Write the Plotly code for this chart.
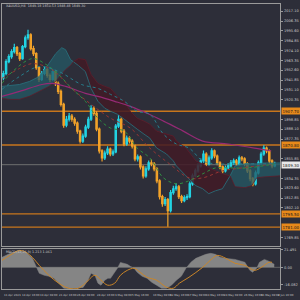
import plotly.graph_objects as go

# ---------------- data ----------------
opens = [1944.0, 1949.0, 1962.0, 1967.4, 1972.9, 1977.2, 1970.7, 1965.3, 1978.3, 1988.1,
         1991.3, 1976.1, 1970.7, 1955.5, 1942.5, 1949.0, 1953.3, 1946.8, 1942.5, 1951.2,
         1938.1, 1929.4, 1915.3, 1892.5, 1899.0, 1902.3, 1899.0, 1894.7, 1886.0, 1875.1,
         1880.6, 1890.3, 1899.0, 1911.0, 1905.5, 1888.2, 1864.3, 1856.7, 1862.1, 1866.4,
         1861.0, 1863.2, 1891.4, 1899.0, 1886.0, 1871.9, 1878.4, 1875.1, 1869.7, 1855.6,
         1857.8, 1846.9, 1837.1, 1844.7, 1851.2, 1850.2, 1844.7, 1831.7, 1814.3, 1806.7,
         1811.1, 1799.1, 1818.7, 1823.0, 1825.2, 1814.3, 1810.0, 1813.2, 1814.3, 1828.4,
         1837.1, 1842.6, 1848.0, 1853.4, 1861.0, 1850.2, 1856.7, 1864.3, 1858.8, 1851.2,
         1846.9, 1842.6, 1845.8, 1848.0, 1851.2, 1853.4, 1850.2, 1856.7, 1855.6, 1850.2,
         1842.6, 1833.9, 1828.4, 1840.4, 1851.2, 1861.0, 1867.5, 1864.3, 1853.4, 1848.0]
closes = [1949.0, 1962.0, 1967.4, 1972.9, 1977.2, 1970.7, 1965.3, 1978.3, 1988.1, 1991.3,
          1976.1, 1970.7, 1955.5, 1942.5, 1949.0, 1953.3, 1946.8, 1942.5, 1951.2, 1938.1,
          1929.4, 1915.3, 1892.5, 1899.0, 1902.3, 1899.0, 1894.7, 1886.0, 1875.1, 1880.6,
          1890.3, 1899.0, 1911.0, 1905.5, 1888.2, 1864.3, 1856.7, 1862.1, 1866.4, 1861.0,
          1863.2, 1891.4, 1899.0, 1886.0, 1871.9, 1878.4, 1875.1, 1869.7, 1855.6, 1857.8,
          1846.9, 1837.1, 1844.7, 1851.2, 1850.2, 1844.7, 1831.7, 1814.3, 1806.7, 1811.1,
          1799.1, 1818.7, 1823.0, 1825.2, 1814.3, 1810.0, 1813.2, 1814.3, 1828.4, 1837.1,
          1842.6, 1848.0, 1853.4, 1861.0, 1850.2, 1856.7, 1864.3, 1858.8, 1851.2, 1846.9,
          1842.6, 1845.8, 1848.0, 1851.2, 1853.4, 1850.2, 1856.7, 1855.6, 1850.2, 1842.6,
          1833.9, 1828.4, 1840.4, 1851.2, 1861.0, 1867.5, 1864.3, 1853.4, 1848.0, 1849.3]
highs = [1952.0, 1964.5, 1970.0, 1975.6, 1981.5, 1979.0, 1972.4, 1980.1, 1990.6, 1996.8,
         1993.0, 1979.4, 1972.2, 1957.3, 1951.8, 1956.4, 1955.0, 1948.9, 1954.0, 1952.9,
         1940.2, 1931.5, 1917.0, 1902.4, 1905.8, 1904.7, 1901.3, 1896.5, 1887.6, 1883.3,
         1892.9, 1901.7, 1914.2, 1913.1, 1907.6, 1890.0, 1866.2, 1864.8, 1869.5, 1868.1,
         1866.0, 1893.8, 1903.6, 1900.8, 1888.3, 1881.2, 1880.3, 1877.0, 1871.4, 1860.5,
         1859.6, 1848.7, 1847.5, 1854.0, 1855.1, 1852.3, 1846.5, 1833.4, 1816.5, 1814.0,
         1813.0, 1821.5, 1826.2, 1828.9, 1827.0, 1816.4, 1815.8, 1817.0, 1830.9, 1839.6,
         1845.0, 1850.8, 1856.1, 1864.7, 1862.9, 1859.3, 1867.4, 1866.0, 1860.4, 1853.1,
         1848.5, 1848.4, 1850.9, 1854.3, 1856.2, 1855.5, 1859.4, 1858.9, 1857.3, 1852.0,
         1844.5, 1835.8, 1842.9, 1853.8, 1863.4, 1870.6, 1869.3, 1866.0, 1855.2, 1852.6]
lows = [1941.5, 1947.0, 1960.2, 1965.0, 1971.0, 1968.2, 1962.8, 1964.0, 1976.5, 1985.9,
        1974.2, 1968.0, 1953.1, 1939.6, 1940.7, 1947.2, 1944.3, 1939.8, 1941.0, 1935.4,
        1926.7, 1912.8, 1889.6, 1890.1, 1896.5, 1896.2, 1891.9, 1883.2, 1872.4, 1873.0,
        1878.8, 1888.4, 1897.1, 1902.8, 1885.9, 1861.5, 1852.9, 1854.3, 1860.0, 1858.4,
        1858.9, 1861.7, 1889.5, 1883.7, 1869.4, 1870.0, 1872.6, 1866.9, 1853.0, 1852.8,
        1844.1, 1834.2, 1835.0, 1842.8, 1847.6, 1842.0, 1829.0, 1811.2, 1803.3, 1804.2,
        1781.5, 1797.0, 1816.4, 1820.8, 1811.9, 1807.3, 1808.1, 1810.6, 1812.5, 1826.3,
        1835.2, 1840.4, 1846.2, 1851.5, 1847.8, 1848.5, 1854.6, 1856.3, 1848.7, 1844.2,
        1840.0, 1840.8, 1843.7, 1846.1, 1849.0, 1847.9, 1848.6, 1853.0, 1847.7, 1840.1,
        1831.2, 1825.7, 1826.5, 1838.6, 1849.3, 1859.2, 1861.8, 1851.0, 1845.5, 1846.4]

# Ichimoku cloud boundaries (bar index, price)
cloud1_x = [-0.5, 2.4, 5.9, 9.5, 13.1, 16.6, 19.1, 21.3, 22.7, 24.5, 25.6]
cloud1_a = [1934.9, 1935.9, 1937.0, 1940.3, 1945.7, 1959.8, 1970.7, 1977.2, 1975.0, 1964.2, 1962.0]
cloud1_b = [1921.8, 1920.7, 1920.7, 1924.0, 1929.4, 1934.9, 1940.3, 1949.0, 1953.3, 1957.7, 1962.0]
cloud2_x = [25.6, 27.4, 29.9, 32.0, 34.5, 37.0, 39.1, 41.6, 44.1, 46.3, 48.8, 51.3, 53.4, 55.9,
            59.5, 62.0, 63.1, 66.6, 70.2, 72.7, 74.9, 77.4, 79.9, 82.7]
cloud2_b = [1962.0, 1965.3, 1964.2, 1947.9, 1938.1, 1934.9, 1932.7, 1924.0, 1918.6, 1907.7,
            1900.1, 1896.9, 1893.6, 1886.0, 1882.7, 1880.6, 1875.1, 1867.5, 1853.4, 1850.2,
            1845.8, 1842.6, 1839.3, 1837.1]
cloud2_a = [1962.0, 1957.7, 1951.2, 1932.7, 1918.6, 1911.0, 1907.7, 1904.5, 1899.0, 1893.6,
            1888.2, 1882.7, 1878.4, 1867.5, 1861.0, 1853.4, 1848.0, 1837.1, 1826.3, 1823.0,
            1817.6, 1820.8, 1823.0, 1837.1]
cloud3_x = [82.7, 84.5, 88.1, 90.6, 92.4, 95.2, 101.0]
cloud3_a = [1837.1, 1848.0, 1850.2, 1850.2, 1850.2, 1851.2, 1851.2]
cloud3_b = [1837.1, 1825.2, 1824.1, 1826.3, 1834.9, 1836.0, 1837.1]

# moving averages (bar index, price)
ma_long_x = [-0.5, 5.9, 14.1, 17.7, 22.7, 29.9, 34.5, 40.6, 46.3, 52.4, 58.4, 65.6, 72.7, 82.0, 91.6, 97.7]
ma_long_y = [1924.0, 1929.4, 1937.0, 1938.1, 1934.9, 1927.3, 1924.0, 1918.6, 1913.1, 1905.5,
             1896.9, 1886.0, 1875.1, 1871.9, 1867.5, 1864.3]
ma_mid_x = [-0.5, 5.9, 10.6, 17.7, 24.9, 32.0, 39.1, 46.3, 53.4, 60.6, 67.7, 72.7, 79.9, 87.0, 98.8]
ma_mid_y = [1943.5, 1954.4, 1959.8, 1953.3, 1932.7, 1915.3, 1900.1, 1889.3, 1867.5, 1850.2,
            1834.9, 1834.9, 1842.6, 1845.8, 1850.2]
ma_fast_x = [-0.5, 3.4, 10.6, 15.6, 20.2, 24.9, 29.9, 34.5, 39.1, 44.1, 48.8, 53.4, 58.4, 63.1,
             67.7, 72.7, 77.4, 82.0, 89.1, 98.8]
ma_fast_y = [1938.1, 1951.2, 1965.3, 1958.8, 1947.9, 1932.7, 1918.6, 1900.1, 1889.3, 1886.0,
             1867.5, 1856.7, 1834.9, 1828.4, 1831.7, 1839.3, 1845.8, 1845.8, 1845.8, 1850.2]
ma_teal_x = [-0.5, 5.9, 13.1, 20.2, 28.5, 34.5, 39.1, 44.1, 48.8, 53.4, 58.4, 63.1, 67.7, 72.7,
             77.4, 84.5, 98.8]
ma_teal_y = [1931.6, 1945.7, 1956.6, 1951.2, 1937.0, 1932.7, 1926.2, 1918.6, 1907.7, 1904.5,
             1882.7, 1871.9, 1867.5, 1853.4, 1850.2, 1850.2, 1850.2]

# horizontal levels
levels = [1907.7, 1870.8, 1795.5, 1781.0]
current_price = 1849.3

# MACD sub-window (bar index, value)
hist_x = [-0.5, 2.4, 5.9, 8.4, 10.6, 12.0, 13.1, 14.9, 16.6, 18.4, 20.2, 22.0, 23.8, 25.6, 27.4,
          29.1, 30.9, 32.0, 33.4, 34.5, 35.6, 37.0, 38.1, 39.1, 40.6, 41.6, 42.7, 44.1, 45.2,
          46.3, 47.7, 48.8, 50.6, 52.4, 54.1, 55.9, 57.7, 59.5, 61.3, 63.1, 64.9, 66.6, 68.4,
          70.2, 72.0, 73.8, 75.6, 77.4, 79.1, 80.9, 84.5, 88.1, 89.9, 90.9, 92.4, 93.4, 95.2,
          97.0, 98.8]
hist_v = [11.9, 16.6, 20.2, 17.8, 10.7, 0.0, -7.1, -9.5, -10.7, -13.1, -19.0, -25.0, -25.5,
          -25.0, -25.0, -24.0, -15.4, -7.1, -9.5, -19.0, -21.4, -15.4, -13.1, -13.1, -5.9, -1.2,
          5.9, 4.8, 3.6, 1.2, -1.2, -5.9, -10.7, -13.1, -17.8, -21.4, -25.0, -25.0, -21.4, -15.4,
          -10.7, -1.2, 6.0, 10.7, 13.1, 15.5, 16.7, 15.5, 11.9, 10.7, 9.5, 6.0, -3.6, -5.9, -1.2,
          6.0, 9.5, 7.1, 3.6]
sig_x = [-0.5, 2.4, 5.9, 8.4, 10.6, 13.1, 16.6, 20.2, 23.8, 27.4, 29.9, 33.4, 35.6, 38.1, 40.6,
         42.7, 45.2, 47.7, 49.9, 52.4, 55.9, 59.5, 62.0, 64.2, 67.7, 72.7, 76.3, 78.1, 81.2,
         84.5, 88.1, 91.6, 94.1, 96.9, 98.0]
sig_v = [8.3, 14.3, 20.2, 17.8, 11.9, 2.4, -9.5, -19.0, -25.0, -25.0, -19.0, -9.5, -15.4, -21.4,
         -19.0, -9.5, -3.6, -1.2, -5.9, -11.9, -15.4, -23.8, -25.0, -19.0, -11.9, 0.0, 10.7,
         14.3, 10.7, 4.8, 2.4, -3.6, 0.0, 6.0, 6.0]

price_ticks = [2017.10, 2006.35, 1995.60, 1984.85, 1974.10, 1963.35, 1952.60, 1941.85, 1931.10,
               1920.35, 1898.85, 1888.10, 1877.35, 1855.85, 1834.35, 1823.60, 1812.85,
               1802.10, 1769.85]
macd_ticks = [21.491, 0.0, -21.0]
macd_tick_text = ["21.491", "0.00", "-16.082"]

date_pos = [-0.5, 5.9, 12.7, 19.5, 26.3, 33.4, 39.9, 46.3, 53.8, 60.2, 66.6, 73.1, 79.9, 87.0, 93.4, 99.6]
date_labels = ["11 Apr 2023", "14 Apr 16:00", "19 Apr 08:00", "21 Apr 16:00", "26 Apr 08:00",
               "28 Apr 16:00", "3 May 08:00", "5 May 16:00", "10 May 08:00", "12 May 16:00",
               "17 May 08:00", "19 May 16:00", "24 May 08:00", "26 May 16:00", "31 May 08:00",
               "2 Jun 16:00"]

header = "XAUUSD,H4  1849.18 1850.53 1848.48 1849.30"
macd_title = "MACD(12,26,9) 1.213 1.061"

assert len(opens) == len(closes) == len(highs) == len(lows) == 100
assert len(hist_x) == len(hist_v) and len(sig_x) == len(sig_v)

# ---------------- styling ----------------
BG = "#2d2e39"
CYAN = "#22d3e3"
ORANGE = "#f2a229"
TEAL_FILL = "rgba(36,90,102,0.75)"
RED_FILL = "rgba(66,26,38,0.85)"
AXIS_COL = "#9a9a9a"
TXT = "#c8c8c8"
FONT = "DejaVu Sans"

fig = go.Figure()
idx = list(range(len(closes)))


def cloud(xs, up, lo, color):
    fig.add_trace(go.Scatter(x=xs + xs[::-1], y=up + lo[::-1], fill="toself", fillcolor=color,
                             line=dict(width=0), mode="lines", hoverinfo="skip",
                             xaxis="x", yaxis="y"))


cloud(cloud1_x, cloud1_a, cloud1_b, TEAL_FILL)
cloud(cloud2_x, cloud2_b, cloud2_a, RED_FILL)
cloud(cloud3_x, cloud3_a, cloud3_b, TEAL_FILL)
fig.add_trace(go.Scatter(x=cloud1_x + cloud2_x + cloud3_x, y=cloud1_a + cloud2_a + cloud3_a,
                         mode="lines", line=dict(color="#2a7380", width=0.8), xaxis="x", yaxis="y"))
fig.add_trace(go.Scatter(x=cloud1_x + cloud2_x + cloud3_x, y=cloud1_b + cloud2_b + cloud3_b,
                         mode="lines", line=dict(color="#5e1d2b", width=0.8), xaxis="x", yaxis="y"))

# moving averages
fig.add_trace(go.Scatter(x=ma_long_x, y=ma_long_y, mode="lines", line=dict(color="#952a74", width=1.2, shape="spline")))
fig.add_trace(go.Scatter(x=ma_mid_x, y=ma_mid_y, mode="lines", line=dict(color="#963634", width=1, dash="dot", shape="spline")))
fig.add_trace(go.Scatter(x=ma_fast_x, y=ma_fast_y, mode="lines", line=dict(color="#2f8f42", width=1, dash="dot", shape="spline")))
fig.add_trace(go.Scatter(x=ma_teal_x, y=ma_teal_y, mode="lines", line=dict(color="#277e8c", width=1, dash="dot", shape="spline")))

# candles
fig.add_trace(go.Candlestick(x=idx, open=opens, high=highs, low=lows, close=closes,
                             increasing=dict(line=dict(color=CYAN, width=1.2), fillcolor=CYAN),
                             decreasing=dict(line=dict(color=ORANGE, width=1.2), fillcolor=ORANGE),
                             whiskerwidth=0, xaxis="x", yaxis="y"))

# MACD
fig.add_trace(go.Scatter(x=hist_x, y=hist_v, mode="lines", fill="tozeroy", fillcolor="#858585",
                         line=dict(color="#858585", width=0.5), xaxis="x2", yaxis="y2"))
fig.add_trace(go.Scatter(x=sig_x, y=sig_v, mode="lines", line=dict(color="#c98528", width=1, shape="spline"),
                         xaxis="x2", yaxis="y2"))

shapes = []
for lv in levels:
    shapes.append(dict(type="line", xref="paper", yref="y", x0=2 / 300, x1=286 / 300, y0=lv, y1=lv,
                       line=dict(color="#c8761c", width=1.3), layer="below"))
shapes.append(dict(type="line", xref="paper", yref="y", x0=2 / 300, x1=286 / 300, y0=current_price,
                   y1=current_price, line=dict(color="#6e6e6e", width=1), layer="below"))
shapes.append(dict(type="line", xref="paper", yref="y2", x0=2 / 300, x1=286 / 300, y0=0, y1=0,
                   line=dict(color="#6e6e6e", width=0.8), layer="below"))

annotations = []
for lv in levels:
    annotations.append(dict(xref="paper", yref="y", x=287 / 300, y=lv, xanchor="left", yanchor="middle",
                            text=f"{lv:.2f}", showarrow=False, bgcolor="#e8891a",
                            font=dict(size=4, color="#1a1a1a", family=FONT), borderpad=0.5))
annotations.append(dict(xref="paper", yref="y", x=287 / 300, y=current_price, xanchor="left", yanchor="middle",
                        text=f"{current_price:.2f}", showarrow=False, bgcolor="#e8e8e8",
                        font=dict(size=4, color="#1a1a1a", family=FONT), borderpad=0.5))
for pos, lab in zip(date_pos, date_labels):
    annotations.append(dict(xref="x", yref="paper", x=pos, y=1 - 295 / 300, xanchor="left", yanchor="middle",
                            text=lab, showarrow=False, font=dict(size=2.7, color=TXT, family=FONT)))
annotations.append(dict(xref="paper", yref="paper", x=4 / 300, y=1 - 4 / 300, xanchor="left", yanchor="middle",
                        text=header, showarrow=False, font=dict(size=3.3, color=TXT, family=FONT)))
annotations.append(dict(xref="paper", yref="paper", x=4 / 300, y=1 - 252 / 300, xanchor="left", yanchor="middle",
                        text=macd_title, showarrow=False, font=dict(size=3.3, color=TXT, family=FONT)))

fig.update_layout(
    width=300, height=300, margin=dict(l=0, r=0, t=0, b=0),
    paper_bgcolor=BG, plot_bgcolor=BG, showlegend=False,
    shapes=shapes, annotations=annotations,
    xaxis=dict(domain=[2 / 300, 286 / 300], range=[-0.5, 101], anchor="y", showgrid=False, zeroline=False,
               showticklabels=False, rangeslider=dict(visible=False), showline=True, mirror=True,
               linecolor=AXIS_COL, linewidth=1),
    yaxis=dict(domain=[1 - 246 / 300, 1 - 2 / 300], range=[1760, 2025], anchor="x", side="right",
               tickvals=price_ticks, tickformat=".2f", showgrid=False, zeroline=False,
               tickfont=dict(size=3.6, color=TXT, family=FONT), ticks="outside", ticklen=2,
               tickcolor=AXIS_COL, showline=True, mirror=True, linecolor=AXIS_COL, linewidth=1),
    xaxis2=dict(domain=[2 / 300, 286 / 300], range=[-0.5, 101], anchor="y2", matches="x", showgrid=False,
                zeroline=False, showticklabels=False, showline=True, mirror=True, linecolor=AXIS_COL, linewidth=1),
    yaxis2=dict(domain=[1 - 289 / 300, 1 - 249 / 300], range=[-26, 21.5], anchor="x2", side="right",
                tickvals=macd_ticks, ticktext=macd_tick_text, showgrid=False, zeroline=False,
                tickfont=dict(size=3.6, color=TXT, family=FONT), ticks="outside", ticklen=2,
                tickcolor=AXIS_COL, showline=True, mirror=True, linecolor=AXIS_COL, linewidth=1),
)

fig.write_html("out.html")
